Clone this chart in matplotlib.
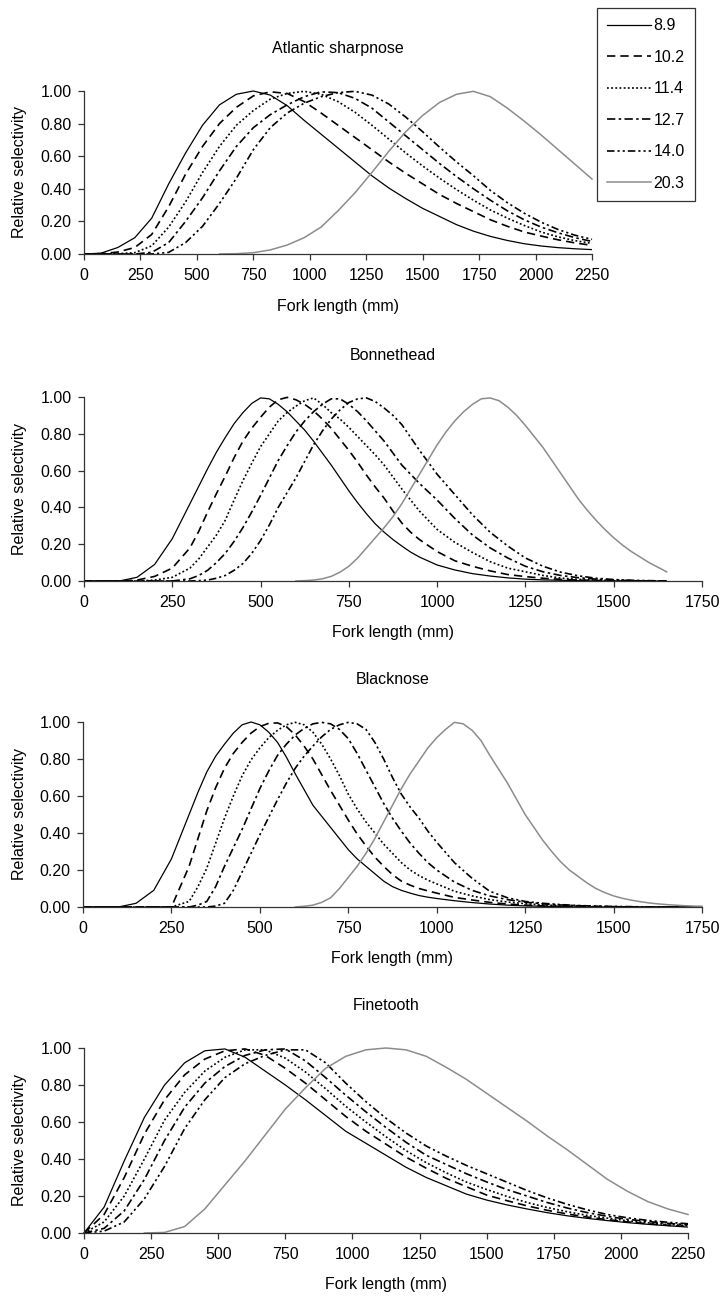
import matplotlib
matplotlib.use('Agg')
import matplotlib.pyplot as plt
from matplotlib.lines import Line2D

plt.rcParams['font.family'] = ['Liberation Sans', 'DejaVu Sans']

# ---------------- data ----------------
mesh_labels = ['8.9', '10.2', '11.4', '12.7', '14.0', '20.3']
species = ['Atlantic sharpnose', 'Bonnethead', 'Blacknose', 'Finetooth']

# Atlantic sharpnose (fork length, mm)
p1_x = [0, 75, 150, 225, 300, 375, 450, 525, 600, 675, 750, 825, 900, 975, 1050, 1125, 1200, 1275,
        1350, 1425, 1500, 1575, 1650, 1725, 1800, 1875, 1950, 2025, 2100, 2175, 2250]
p1_89 = [0, 0.005, 0.04, 0.10, 0.22, 0.43, 0.62, 0.79, 0.915, 0.98, 1.0, 0.975, 0.91, 0.82, 0.735, 0.65, 0.565, 0.48,
         0.405, 0.34, 0.28, 0.23, 0.18, 0.14, 0.108, 0.083, 0.063, 0.049, 0.039, 0.032, 0.027]
p1_102 = [0, 0.002, 0.012, 0.04, 0.12, 0.29, 0.49, 0.66, 0.80, 0.90, 0.97, 0.995, 0.985, 0.935, 0.865, 0.79, 0.715, 0.64,
          0.565, 0.495, 0.43, 0.365, 0.31, 0.26, 0.21, 0.17, 0.135, 0.11, 0.087, 0.068, 0.053]
p1_114 = [0, 0, 0.002, 0.008, 0.05, 0.165, 0.32, 0.50, 0.66, 0.79, 0.88, 0.95, 0.985, 0.998, 0.98, 0.935, 0.87, 0.79,
          0.705, 0.62, 0.54, 0.465, 0.395, 0.33, 0.27, 0.22, 0.175, 0.135, 0.105, 0.082, 0.065]
p1_127 = [0, 0, 0, 0, 0.01, 0.07, 0.20, 0.345, 0.51, 0.66, 0.775, 0.855, 0.915, 0.965, 0.995, 0.99, 0.955, 0.895,
          0.81, 0.725, 0.64, 0.555, 0.475, 0.40, 0.33, 0.265, 0.21, 0.165, 0.13, 0.10, 0.077]
p1_140 = [0, 0, 0, 0, 0, 0.01, 0.07, 0.17, 0.31, 0.465, 0.64, 0.775, 0.865, 0.925, 0.965, 0.99, 0.998, 0.975,
          0.92, 0.84, 0.75, 0.655, 0.565, 0.48, 0.39, 0.315, 0.25, 0.195, 0.15, 0.115, 0.09]
p1_203_x = [600, 675, 750, 825, 900, 975, 1050, 1125, 1200, 1275, 1350, 1425, 1500, 1575, 1650, 1725, 1800, 1875,
            1950, 2025, 2100, 2175, 2250]
p1_203 = [0, 0.002, 0.008, 0.025, 0.055, 0.10, 0.165, 0.265, 0.375, 0.50, 0.63, 0.75, 0.85, 0.93, 0.98, 0.998, 0.965, 0.895,
          0.815, 0.73, 0.64, 0.55, 0.46]

# Bonnethead
p2_x = [0, 50, 100, 150, 200, 250, 300,
        325, 350, 375, 400, 425, 450, 475, 500, 525, 550, 575, 600, 625, 650, 675, 700, 725, 750,
        775, 800, 825, 850, 875, 900, 925, 950,
        1000, 1050, 1100, 1150, 1200, 1250, 1300, 1350, 1400, 1450, 1500, 1550, 1600, 1650]
p2_89 = [0, 0, 0, 0.02, 0.09, 0.23, 0.42,
         0.515, 0.61, 0.70, 0.78, 0.855, 0.915, 0.965, 0.995, 0.99, 0.96, 0.92, 0.87, 0.82, 0.76, 0.695, 0.63, 0.56, 0.49,
         0.425, 0.365, 0.31, 0.265, 0.225, 0.19, 0.157, 0.13,
         0.087, 0.06, 0.04, 0.027, 0.017, 0.01, 0.006, 0.004, 0.002, 0, 0, 0, 0, 0]
p2_102 = [0, 0, 0, 0.005, 0.025, 0.07, 0.18,
          0.27, 0.375, 0.475, 0.57, 0.67, 0.76, 0.83, 0.89, 0.945, 0.985, 0.998, 0.985, 0.96, 0.925, 0.88, 0.83, 0.77, 0.71,
          0.645, 0.575, 0.51, 0.45, 0.38, 0.315, 0.265, 0.225,
          0.16, 0.11, 0.08, 0.055, 0.035, 0.024, 0.015, 0.009, 0.005, 0.003, 0.001, 0, 0, 0]
p2_114 = [0, 0, 0, 0, 0.005, 0.02, 0.07,
          0.12, 0.185, 0.25, 0.33, 0.44, 0.545, 0.64, 0.73, 0.80, 0.87, 0.915, 0.95, 0.98, 0.995, 0.96, 0.915, 0.88, 0.835,
          0.785, 0.735, 0.685, 0.63, 0.565, 0.50, 0.44, 0.38,
          0.28, 0.21, 0.155, 0.105, 0.07, 0.05, 0.03, 0.016, 0.009, 0.005, 0.003, 0.001, 0, 0]
p2_127 = [0, 0, 0, 0, 0, 0, 0.012,
          0.03, 0.058, 0.10, 0.15, 0.215, 0.29, 0.375, 0.465, 0.56, 0.655, 0.735, 0.81, 0.87, 0.92, 0.96, 0.99, 0.99, 0.96,
          0.92, 0.87, 0.815, 0.76, 0.695, 0.63, 0.58, 0.53,
          0.44, 0.34, 0.25, 0.18, 0.125, 0.08, 0.05, 0.03, 0.018, 0.01, 0.005, 0.002, 0, 0]
p2_140 = [0, 0, 0, 0, 0, 0, 0,
          0.002, 0.005, 0.015, 0.03, 0.058, 0.095, 0.15, 0.22, 0.305, 0.40, 0.48, 0.56, 0.65, 0.74, 0.815, 0.88, 0.93, 0.97,
          0.99, 0.995, 0.975, 0.94, 0.90, 0.85, 0.78, 0.71,
          0.58, 0.47, 0.36, 0.265, 0.19, 0.125, 0.08, 0.048, 0.028, 0.015, 0.008, 0.004, 0.002, 0]
p2_203_x = [600, 625, 650, 675, 700, 725, 750, 775, 800, 825, 850, 875, 900, 925, 950, 975, 1000, 1025, 1050, 1075,
            1100, 1125, 1150, 1175, 1200, 1225, 1250, 1275, 1300, 1325, 1350, 1375, 1400, 1425, 1450, 1475, 1500,
            1525, 1550, 1575, 1600, 1625, 1650]
p2_203 = [0, 0.002, 0.005, 0.012, 0.025, 0.048, 0.08, 0.125, 0.18, 0.235, 0.29, 0.35, 0.42, 0.50, 0.58, 0.66, 0.74, 0.81,
          0.87, 0.92, 0.96, 0.99, 0.995, 0.98, 0.945, 0.90, 0.845, 0.785, 0.725, 0.655, 0.585, 0.515, 0.445, 0.385, 0.33,
          0.28, 0.235, 0.195, 0.16, 0.13, 0.10, 0.075, 0.05]

# Blacknose
p3_x = [0, 50, 100, 150, 200, 250, 300,
        325, 350, 375, 400, 425, 450, 475, 500, 525, 550, 575, 600, 625, 650, 675, 700, 725, 750,
        775, 800, 825, 850, 875, 900, 925, 950, 975, 1000,
        1050, 1100, 1150, 1200, 1250, 1300, 1350, 1400, 1450, 1500, 1550, 1600, 1650, 1700, 1750]
p3_89 = [0, 0, 0, 0.02, 0.09, 0.26, 0.50,
         0.62, 0.73, 0.815, 0.88, 0.94, 0.985, 1.0, 0.985, 0.945, 0.89, 0.81, 0.72, 0.635, 0.55, 0.49, 0.43, 0.37, 0.31,
         0.26, 0.22, 0.18, 0.14, 0.11, 0.09, 0.075, 0.062, 0.053, 0.046,
         0.034, 0.024, 0.016, 0.01, 0.006, 0.004, 0.002, 0, 0, 0, 0, 0, 0, 0, 0]
p3_102 = [0, 0, 0, 0, 0, 0, 0.22,
          0.37, 0.52, 0.645, 0.75, 0.83, 0.89, 0.94, 0.975, 0.993, 0.995, 0.975, 0.93, 0.87, 0.80, 0.715, 0.63, 0.55, 0.47,
          0.395, 0.33, 0.27, 0.22, 0.175, 0.14, 0.118, 0.10, 0.087, 0.075,
          0.052, 0.038, 0.025, 0.016, 0.01, 0.006, 0.003, 0, 0, 0, 0, 0, 0, 0, 0]
p3_114 = [0, 0, 0, 0, 0, 0, 0.03,
          0.11, 0.21, 0.345, 0.48, 0.60, 0.71, 0.795, 0.86, 0.915, 0.955, 0.985, 0.998, 0.985, 0.945, 0.88, 0.80, 0.71, 0.61,
          0.53, 0.46, 0.40, 0.34, 0.29, 0.24, 0.20, 0.17, 0.145, 0.125,
          0.085, 0.06, 0.04, 0.027, 0.018, 0.011, 0.007, 0.004, 0.002, 0, 0, 0, 0, 0, 0]
p3_127 = [0, 0, 0, 0, 0, 0, 0,
          0.01, 0.03, 0.11, 0.22, 0.32, 0.42, 0.53, 0.64, 0.735, 0.82, 0.88, 0.93, 0.965, 0.99, 0.998, 0.99, 0.96, 0.91,
          0.83, 0.74, 0.65, 0.56, 0.48, 0.41, 0.345, 0.29, 0.24, 0.20,
          0.135, 0.09, 0.06, 0.04, 0.026, 0.017, 0.011, 0.007, 0.004, 0.002, 0, 0, 0, 0, 0]
p3_140 = [0, 0, 0, 0, 0, 0, 0,
          0, 0, 0.005, 0.02, 0.09, 0.19, 0.29, 0.39, 0.485, 0.58, 0.67, 0.75, 0.815, 0.87, 0.92, 0.96, 0.985, 0.998,
          0.99, 0.96, 0.89, 0.80, 0.70, 0.61, 0.54, 0.48, 0.41, 0.35,
          0.24, 0.155, 0.085, 0.05, 0.03, 0.02, 0.013, 0.008, 0.005, 0.003, 0.002, 0, 0, 0, 0]
p3_203_x = [600, 625, 650, 675, 700, 725, 750, 775, 800, 825, 850, 875, 900, 925, 950, 975, 1000, 1025, 1050, 1075,
            1100, 1125, 1150, 1175, 1200, 1225, 1250, 1275, 1300, 1325, 1350, 1375, 1400, 1425, 1450, 1475, 1500,
            1525, 1550, 1575, 1600, 1625, 1650, 1675, 1700, 1725, 1750]
p3_203 = [0, 0.004, 0.01, 0.025, 0.05, 0.10, 0.16, 0.22, 0.29, 0.37, 0.46, 0.55, 0.64, 0.72, 0.79, 0.86, 0.915, 0.96,
          0.998, 0.99, 0.955, 0.90, 0.82, 0.745, 0.67, 0.585, 0.50, 0.43, 0.36, 0.30, 0.245, 0.20, 0.165, 0.13, 0.10,
          0.078, 0.06, 0.047, 0.037, 0.029, 0.022, 0.017, 0.013, 0.01, 0.007, 0.005, 0.004]

# Finetooth
p4_x = [0, 75, 150, 225, 300, 375, 450, 525, 600, 675, 750, 825, 900, 975, 1050, 1125, 1200, 1275,
        1350, 1425, 1500, 1575, 1650, 1725, 1800, 1875, 1950, 2025, 2100, 2175, 2250]
p4_89 = [0, 0.14, 0.39, 0.625, 0.80, 0.92, 0.985, 0.995, 0.95, 0.875, 0.80, 0.72, 0.635, 0.55, 0.485, 0.42, 0.355, 0.30,
         0.255, 0.21, 0.178, 0.152, 0.13, 0.11, 0.093, 0.079, 0.067, 0.056, 0.047, 0.039, 0.032]
p4_102 = [0, 0.10, 0.30, 0.535, 0.72, 0.855, 0.94, 0.985, 0.995, 0.96, 0.89, 0.81, 0.72, 0.63, 0.55, 0.48, 0.41, 0.35,
          0.295, 0.25, 0.205, 0.175, 0.147, 0.123, 0.103, 0.086, 0.072, 0.06, 0.05, 0.042, 0.035]
p4_114 = [0, 0.06, 0.20, 0.40, 0.61, 0.76, 0.875, 0.95, 0.99, 0.99, 0.945, 0.87, 0.78, 0.685, 0.60, 0.52, 0.445, 0.38,
          0.325, 0.275, 0.235, 0.198, 0.165, 0.138, 0.115, 0.095, 0.08, 0.066, 0.055, 0.046, 0.04]
p4_127 = [0, 0.025, 0.12, 0.29, 0.50, 0.68, 0.81, 0.90, 0.96, 0.99, 0.995, 0.93, 0.84, 0.745, 0.655, 0.57, 0.49, 0.42,
          0.37, 0.32, 0.276, 0.235, 0.20, 0.165, 0.135, 0.11, 0.09, 0.074, 0.062, 0.052, 0.045]
p4_140 = [0, 0.01, 0.06, 0.185, 0.36, 0.565, 0.72, 0.84, 0.915, 0.96, 0.99, 0.99, 0.92, 0.81, 0.71, 0.62, 0.54, 0.47,
          0.415, 0.365, 0.32, 0.275, 0.23, 0.19, 0.155, 0.125, 0.10, 0.082, 0.068, 0.058, 0.05]
p4_203_x = [225, 300, 375, 450, 525, 600, 675, 750, 825, 900, 975, 1050, 1125, 1200, 1275, 1350, 1425, 1500,
            1575, 1650, 1725, 1800, 1875, 1950, 2025, 2100, 2175, 2250]
p4_203 = [0, 0.003, 0.035, 0.13, 0.26, 0.39, 0.53, 0.67, 0.785, 0.89, 0.955, 0.99, 1.0, 0.99, 0.955, 0.895, 0.83, 0.755,
          0.68, 0.605, 0.525, 0.45, 0.37, 0.29, 0.225, 0.17, 0.13, 0.10]

x_max = [2250, 1750, 1750, 2250]
x_step = 250
y_ticks = [0.0, 0.2, 0.4, 0.6, 0.8, 1.0]

panels = [
    (p1_x, [p1_89, p1_102, p1_114, p1_127, p1_140], p1_203_x, p1_203),
    (p2_x, [p2_89, p2_102, p2_114, p2_127, p2_140], p2_203_x, p2_203),
    (p3_x, [p3_89, p3_102, p3_114, p3_127, p3_140], p3_203_x, p3_203),
    (p4_x, [p4_89, p4_102, p4_114, p4_127, p4_140], p4_203_x, p4_203),
]

# ---------------- styles / layout ----------------
W, H = 723, 1298
FS = 11.5
styles = [
    dict(color='black', ls='-', lw=0.9),
    dict(color='black', ls=(0, (5, 3)), lw=1.2),
    dict(color='black', ls=(0, (1.1, 1.4)), lw=1.2),
    dict(color='black', ls=(0, (5, 2, 1.5, 2)), lw=1.2),
    dict(color='black', ls=(0, (4.5, 1.8, 1.3, 1.8, 1.3, 1.8)), lw=1.2),
    dict(color='#8c8c8c', ls='-', lw=1.1),
]
# axes boxes in pixels: left, right, top, bottom
boxes = [(84, 592, 91, 254), (84, 702, 397, 581), (83, 702, 722, 907), (84, 688, 1048, 1233)]
title_y = [49, 356, 680, 1005]

fig = plt.figure(figsize=(W / 100, H / 100), dpi=100)

for i, (box, (x, blk, gx, gy)) in enumerate(zip(boxes, panels)):
    l, r, t, b = box
    ax = fig.add_axes([l / W, 1 - b / H, (r - l) / W, (b - t) / H])
    for ys, st in zip(blk, styles[:5]):
        ax.plot(x, ys, clip_on=False, solid_capstyle='butt', **st)
    ax.plot(gx, gy, clip_on=False, **styles[5])
    ax.set_xlim(0, x_max[i])
    ax.set_ylim(0, 1.0)
    ax.set_xticks(list(range(0, x_max[i] + 1, x_step)))
    ax.set_yticks(y_ticks)
    ax.set_yticklabels(['%.2f' % v for v in y_ticks])
    for s in ['top', 'right']:
        ax.spines[s].set_visible(False)
    for s in ['left', 'bottom']:
        ax.spines[s].set_color('#333333')
        ax.spines[s].set_linewidth(0.9)
    ax.tick_params(direction='out', length=4, width=0.9, color='#333333', labelsize=FS, pad=5)
    ax.tick_params(axis='x', pad=6)
    cx = (l + r) / 2
    fig.text(cx / W, 1 - title_y[i] / H, species[i], ha='center', va='center', fontsize=FS)
    fig.text(cx / W, 1 - (b + 52) / H, 'Fork length (mm)', ha='center', va='center', fontsize=FS)
    fig.text(20 / W, 1 - ((t + b) / 2) / H, 'Relative selectivity', ha='center', va='center',
             rotation=90, fontsize=FS)

handles = [Line2D([0], [0], **st) for st in styles]
leg = fig.legend(handles, mesh_labels, loc='upper left', bbox_to_anchor=(597 / W, 1 - 8 / H),
                 frameon=True, fancybox=False, edgecolor='#333333', framealpha=1,
                 handlelength=2.7, handletextpad=0.2, labelspacing=1.03, borderpad=0.65,
                 borderaxespad=0, fontsize=FS)
leg.get_frame().set_linewidth(0.9)

fig.savefig('out.png', dpi=100)
